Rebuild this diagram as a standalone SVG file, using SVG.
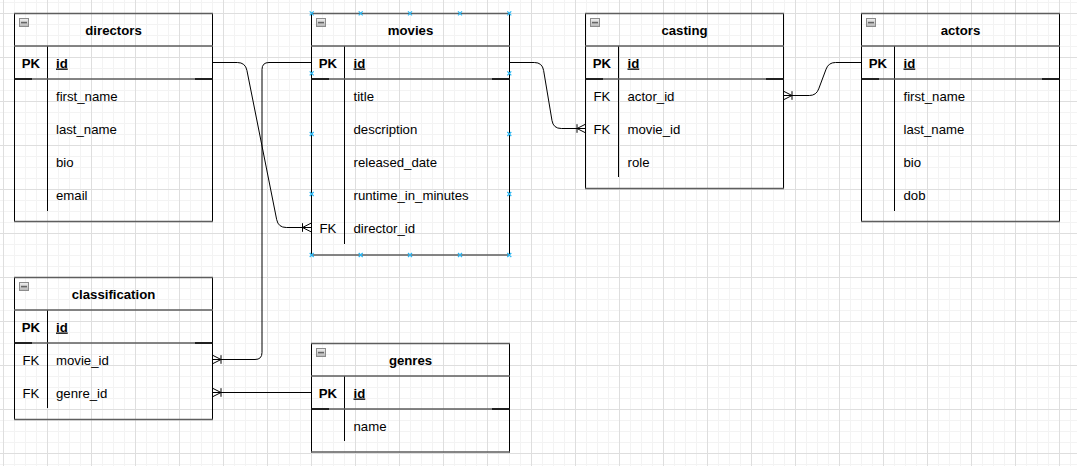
<svg xmlns="http://www.w3.org/2000/svg" xmlns:xlink="http://www.w3.org/1999/xlink" width="1077" height="466" viewBox="0 0 1077 466">
<style>
.vb{stroke:#000;stroke-width:1;fill:none}
.hb{stroke:#5e5e5e;stroke-width:1.3;fill:none}
.pe{stroke:#000;stroke-width:1.3;fill:none}
text{font-family:"Liberation Sans",Arial,sans-serif;font-size:13.2px;fill:#000}
.ti{font-weight:bold;text-anchor:middle}
.pk{font-weight:bold;text-anchor:middle}
.fk{text-anchor:middle}
.pf{font-weight:bold;text-decoration:underline}
.cn{stroke:#000;stroke-width:1;fill:none}
.ic{fill:url(#icg);stroke:#8c8c8c;stroke-width:1}
.im{fill:#666}
</style>
<defs>
<pattern id="grid" patternUnits="userSpaceOnUse" x="3" y="13" width="44" height="44">
<rect x="0" y="0" width="44" height="44" fill="#fff"/>
<rect x="11" y="0" width="1" height="44" fill="#f3f3f3"/>
<rect x="22" y="0" width="1" height="44" fill="#f3f3f3"/>
<rect x="33" y="0" width="1" height="44" fill="#f3f3f3"/>
<rect x="0" y="11" width="44" height="1" fill="#f3f3f3"/>
<rect x="0" y="22" width="44" height="1" fill="#f3f3f3"/>
<rect x="0" y="33" width="44" height="1" fill="#f3f3f3"/>
<rect x="0" y="0" width="1" height="44" fill="#dedede"/>
<rect x="0" y="0" width="44" height="1" fill="#dedede"/>
</pattern>
<linearGradient id="icg" x1="0" y1="0" x2="0" y2="1">
<stop offset="0" stop-color="#f2f2f2"/>
<stop offset="1" stop-color="#b5b5b5"/>
</linearGradient>
<marker id="many" markerUnits="userSpaceOnUse" viewBox="-10 -6 11 12" refX="0" refY="0" markerWidth="11" markerHeight="12" orient="auto" overflow="visible">
<path d="M-8.5,0 L0,-4.3 M-8.5,0 L0,4.3 M-8.5,-4.3 V4.3" fill="none" stroke="#000" stroke-width="1"/>
</marker>
<path id="cp" d="M-2,-2 L2,2 M-2,2 L2,-2" stroke="#29b6f2" stroke-width="1.2" fill="none"/>
</defs>
<rect x="0" y="0" width="1077" height="466" fill="url(#grid)"/>

<g id="directors">
<path class="vb" d="M14.5,13 V222 M212.5,13 V222 M47.5,46 V211"/>
<path class="hb" d="M14,13.5 H213 M14,46 H213 M14,79 H213 M14,221.5 H213"/>
<path class="pe" d="M14,79 H32 M195,79 H213"/>
<rect class="ic" x="19.5" y="18.5" width="9" height="8"/><rect class="im" x="21" y="21.8" width="6" height="1.6"/>
<text class="ti" x="113.5" y="34.5">directors</text>
<text class="pk" x="31" y="67.5">PK</text>
<text class="pf" x="56" y="67.5">id</text>
<text x="56" y="100.5">first_name</text>
<text x="56" y="133.5">last_name</text>
<text x="56" y="166.5">bio</text>
<text x="56" y="199.5">email</text>
</g>

<g id="movies">
<path class="vb" d="M311.5,13 V255.5 M509.5,13 V255.5 M344.5,46 V244"/>
<path class="hb" d="M311,13.5 H510 M311,46 H510 M311,79 H510 M311,255 H510"/>
<path class="pe" d="M311,79 H329 M492,79 H510"/>
<rect class="ic" x="316.5" y="18.5" width="9" height="8"/><rect class="im" x="318" y="21.8" width="6" height="1.6"/>
<text class="ti" x="410.5" y="34.5">movies</text>
<text class="pk" x="328" y="67.5">PK</text>
<text class="pf" x="353.5" y="67.5">id</text>
<text x="353.5" y="100.5">title</text>
<text x="353.5" y="133.5">description</text>
<text x="353.5" y="166.5">released_date</text>
<text x="353.5" y="199.5">runtime_in_minutes</text>
<text class="fk" x="328" y="232.5">FK</text>
<text x="353.5" y="232.5">director_id</text>
<g id="movies-points">
<use xlink:href="#cp" x="311.7" y="13.3"/><use xlink:href="#cp" x="360.7" y="13.3"/><use xlink:href="#cp" x="410" y="13.3"/><use xlink:href="#cp" x="460" y="13.3"/><use xlink:href="#cp" x="509.3" y="13.3"/>
<use xlink:href="#cp" x="311.7" y="255"/><use xlink:href="#cp" x="360.7" y="255"/><use xlink:href="#cp" x="410" y="255"/><use xlink:href="#cp" x="460" y="255"/><use xlink:href="#cp" x="509.3" y="255"/>
<use xlink:href="#cp" x="311.7" y="73.3"/><use xlink:href="#cp" x="311.7" y="134"/><use xlink:href="#cp" x="311.7" y="194"/>
<use xlink:href="#cp" x="509.3" y="73.3"/><use xlink:href="#cp" x="509.3" y="134"/><use xlink:href="#cp" x="509.3" y="194"/>
</g>
</g>

<g id="casting">
<path class="vb" d="M585.5,13 V189 M783.5,13 V189 M618.5,46 V177"/>
<path class="hb" d="M585,13.5 H784 M585,46 H784 M585,79 H784 M585,188.5 H784"/>
<path class="pe" d="M585,79 H603 M766,79 H784"/>
<rect class="ic" x="590.5" y="18.5" width="9" height="8"/><rect class="im" x="592" y="21.8" width="6" height="1.6"/>
<text class="ti" x="684.5" y="34.5">casting</text>
<text class="pk" x="602" y="67.5">PK</text>
<text class="pf" x="627.5" y="67.5">id</text>
<text class="fk" x="602" y="100.5">FK</text>
<text x="627.5" y="100.5">actor_id</text>
<text class="fk" x="602" y="133.5">FK</text>
<text x="627.5" y="133.5">movie_id</text>
<text x="627.5" y="166.5">role</text>
</g>

<g id="actors">
<path class="vb" d="M861.5,13 V222 M1059.5,13 V222 M894.5,46 V211"/>
<path class="hb" d="M861,13.5 H1060 M861,46 H1060 M861,79 H1060 M861,221.5 H1060"/>
<path class="pe" d="M861,79 H879 M1042,79 H1060"/>
<rect class="ic" x="866.5" y="18.5" width="9" height="8"/><rect class="im" x="868" y="21.8" width="6" height="1.6"/>
<text class="ti" x="960.5" y="34.5">actors</text>
<text class="pk" x="878" y="67.5">PK</text>
<text class="pf" x="903.5" y="67.5">id</text>
<text x="903.5" y="100.5">first_name</text>
<text x="903.5" y="133.5">last_name</text>
<text x="903.5" y="166.5">bio</text>
<text x="903.5" y="199.5">dob</text>
</g>

<g id="classification">
<path class="vb" d="M14.5,277 V420 M212.5,277 V420 M47.5,310 V408"/>
<path class="hb" d="M14,277.5 H213 M14,310 H213 M14,343 H213 M14,419.5 H213"/>
<path class="pe" d="M14,343 H32 M195,343 H213"/>
<rect class="ic" x="19.5" y="282.5" width="9" height="8"/><rect class="im" x="21" y="285.8" width="6" height="1.6"/>
<text class="ti" x="113.5" y="298.5">classification</text>
<text class="pk" x="31" y="331.5">PK</text>
<text class="pf" x="56" y="331.5">id</text>
<text class="fk" x="31" y="364.5">FK</text>
<text x="56" y="364.5">movie_id</text>
<text class="fk" x="31" y="397.5">FK</text>
<text x="56" y="397.5">genre_id</text>
</g>

<g id="genres">
<path class="vb" d="M311.5,343 V452.5 M509.5,343 V452.5 M344.5,376 V441"/>
<path class="hb" d="M311,343.5 H510 M311,376 H510 M311,409 H510 M311,452 H510"/>
<path class="pe" d="M311,409 H329 M492,409 H510"/>
<rect class="ic" x="316.5" y="348.5" width="9" height="8"/><rect class="im" x="318" y="351.8" width="6" height="1.6"/>
<text class="ti" x="410.5" y="364.5">genres</text>
<text class="pk" x="328" y="397.5">PK</text>
<text class="pf" x="353.5" y="397.5">id</text>
<text x="353.5" y="430.5">name</text>
</g>

<g id="connectors">
<path class="cn" marker-end="url(#many)" d="M212.5,62.5 L237.3,62.5 Q245.3,62.5 246.9,70.3 L276.7,219.7 Q278.3,227.5 286.3,227.5 L311,227.5"/>
<path class="cn" marker-end="url(#many)" d="M509.5,62.5 L534.3,62.5 Q542.3,62.5 543.6,70.4 L552,120.6 Q553.3,128.5 561.3,128.5 L585.5,128.5"/>
<path class="cn" marker-end="url(#many)" d="M861,62.5 L835.5,62.5 Q828.5,62.5 826.1,69.1 L818.7,88.9 Q816.3,95.5 809.3,95.5 L783.5,95.5"/>
<path class="cn" marker-end="url(#many)" stroke-width="1.1" d="M311,62.5 L269,62.5 Q262,62.5 262,69.5 L262,352.5 Q262,359.5 255,359.5 L212.5,359.5"/>
<path class="cn" marker-end="url(#many)" d="M311,392.5 L212.5,392.5"/>
</g>
</svg>
